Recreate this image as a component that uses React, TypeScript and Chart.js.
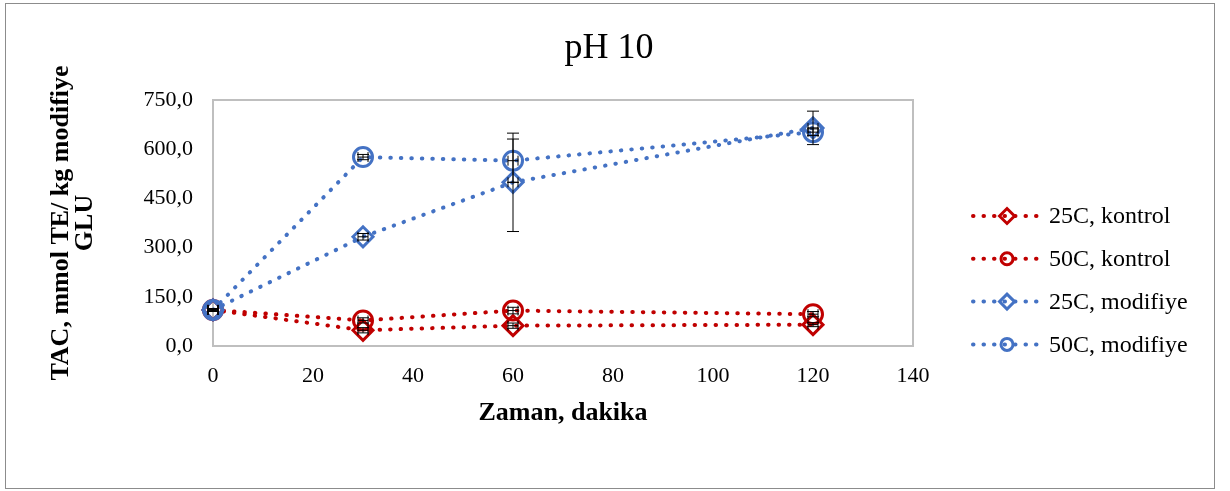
import React, { useEffect, useRef } from 'react';
import { Chart, registerables } from 'chart.js';

Chart.register(...registerables);

// ---- Data ----
const chartTitle = 'pH 10';
const xMinutes = [0, 30, 60, 120];
const seriesLabels = ['25C, kontrol', '50C, kontrol', '25C, modifiye', '50C, modifiye'];
const kontrol25 = [110, 48, 62, 65];
const kontrol50 = [110, 78, 108, 97];
const modifiye25 = [110, 333, 499, 665];
const modifiye50 = [110, 576, 565, 652];
const kontrol25Err = [4, 8, 8, 6];
const kontrol50Err = [4, 8, 10, 8];
const modifiye25Err = [4, 10, 150, 51];
const modifiye50Err = [4, 8, 66, 10];
const xErr = [1, 1, 1, 1];
const yTickLabels = ['0,0', '150,0', '300,0', '450,0', '600,0', '750,0'];
const xTickLabels = ['0', '20', '40', '60', '80', '100', '120', '140'];

const RED = '#c00000';
const BLUE = '#4472c4';
const SERIF = "'Liberation Serif', 'Times New Roman', serif";

const seriesValues = [kontrol25, kontrol50, modifiye25, modifiye50];
const seriesErrors = [kontrol25Err, kontrol50Err, modifiye25Err, modifiye50Err];
const seriesColors = [RED, RED, BLUE, BLUE];
const seriesShapes = ['rectRot', 'circle', 'rectRot', 'circle'];

const drawMarker = (ctx: CanvasRenderingContext2D, shape: string, x: number, y: number, r: number, color: string, lw: number) => {
  ctx.save();
  ctx.strokeStyle = color;
  ctx.lineWidth = lw;
  ctx.beginPath();
  if (shape === 'circle') {
    ctx.arc(x, y, r, 0, Math.PI * 2);
  } else {
    ctx.moveTo(x - r, y);
    ctx.lineTo(x, y - r);
    ctx.lineTo(x + r, y);
    ctx.lineTo(x, y + r);
    ctx.closePath();
  }
  ctx.stroke();
  ctx.restore();
};

const errorBarPlugin = {
  id: 'errorBars',
  afterDatasetsDraw(chart: any) {
    const { ctx, scales } = chart;
    const xs = scales.x;
    const ys = scales.y;
    ctx.save();
    ctx.strokeStyle = '#000';
    ctx.lineWidth = 1;
    seriesValues.forEach((vals, si) => {
      vals.forEach((v, i) => {
        const px = xs.getPixelForValue(xMinutes[i]);
        const py = ys.getPixelForValue(v);
        const yTop = ys.getPixelForValue(v + seriesErrors[si][i]);
        const yBot = ys.getPixelForValue(v - seriesErrors[si][i]);
        const xL = xs.getPixelForValue(xMinutes[i] - xErr[i]);
        const xR = xs.getPixelForValue(xMinutes[i] + xErr[i]);
        ctx.beginPath();
        ctx.moveTo(px, yTop);
        ctx.lineTo(px, yBot);
        ctx.moveTo(px - 6, yTop);
        ctx.lineTo(px + 6, yTop);
        ctx.moveTo(px - 6, yBot);
        ctx.lineTo(px + 6, yBot);
        ctx.moveTo(xL, py);
        ctx.lineTo(xR, py);
        ctx.moveTo(xL, py - 5);
        ctx.lineTo(xL, py + 5);
        ctx.moveTo(xR, py - 5);
        ctx.lineTo(xR, py + 5);
        ctx.stroke();
      });
    });
    ctx.restore();
  },
};

const framePlugin = {
  id: 'frame',
  beforeDatasetsDraw(chart: any) {
    const { ctx, chartArea } = chart;
    ctx.save();
    ctx.strokeStyle = '#bfbfbf';
    ctx.lineWidth = 2;
    ctx.strokeRect(chartArea.left, chartArea.top, chartArea.right - chartArea.left, chartArea.bottom - chartArea.top);
    ctx.restore();
  },
  afterDraw(chart: any) {
    const { ctx } = chart;
    ctx.save();
    // outer border
    ctx.strokeStyle = '#8c8c8c';
    ctx.lineWidth = 1;
    ctx.strokeRect(5.5, 3.5, 1209, 485);
    // title
    ctx.fillStyle = '#000';
    ctx.font = `36px ${SERIF}`;
    ctx.textAlign = 'center';
    ctx.textBaseline = 'alphabetic';
    ctx.fillText(chartTitle, 609, 58);
    // legend
    const rowY0 = 216;
    const rowGap = 42.8;
    seriesLabels.forEach((lab, i) => {
      const y = rowY0 + i * rowGap;
      const c = seriesColors[i];
      ctx.strokeStyle = c;
      ctx.lineWidth = 4;
      ctx.lineCap = 'round';
      ctx.setLineDash([0.5, 10]);
      ctx.beginPath();
      ctx.moveTo(973, y);
      ctx.lineTo(1040, y);
      ctx.stroke();
      ctx.setLineDash([]);
      ctx.lineCap = 'butt';
      drawMarker(ctx, seriesShapes[i], 1007, y, seriesShapes[i] === 'circle' ? 6 : 7.5, c, 3);
      ctx.fillStyle = '#000';
      ctx.font = `24px ${SERIF}`;
      ctx.textBaseline = 'middle';
      ctx.textAlign = 'left';
      ctx.fillText(lab, 1049, y + 1);
    });
    ctx.restore();
  },
};

export default function App() {
  const canvasRef = useRef<HTMLCanvasElement | null>(null);

  useEffect(() => {
    const canvas = canvasRef.current;
    if (!canvas) return;
    const datasets = seriesLabels.map((label, si) => ({
      label,
      order: seriesLabels.length - si,
      data: xMinutes.map((x, i) => ({ x, y: seriesValues[si][i] })),
      borderColor: seriesColors[si],
      backgroundColor: 'rgba(0,0,0,0)',
      borderWidth: 4,
      borderDash: [0.5, 10],
      borderCapStyle: 'round' as const,
      tension: 0,
      pointStyle: seriesShapes[si] as any,
      pointRadius: seriesShapes[si] === 'circle' ? 9.5 : 10,
      pointBorderWidth: 3,
      pointBorderColor: seriesColors[si],
      pointBackgroundColor: 'rgba(0,0,0,0)',
      clip: false as any,
    }));

    const chart = new Chart(canvas, {
      type: 'line',
      data: { datasets },
      options: {
        responsive: false,
        animation: false,
        layout: { padding: { left: 46, right: 317, top: 100, bottom: 62 } },
        plugins: {
          legend: { display: false },
          tooltip: { enabled: false },
          title: { display: false },
        },
        scales: {
          x: {
            type: 'linear',
            min: 0,
            max: 140,
            grid: { display: false, drawTicks: false },
            border: { display: false },
            ticks: {
              stepSize: 20,
              padding: 17,
              color: '#000',
              font: { family: SERIF, size: 22 },
              callback: (_v: any, i: number) => xTickLabels[i],
            },
            title: {
              display: true,
              text: 'Zaman, dakika',
              color: '#000',
              font: { family: SERIF, size: 26, weight: 'bold' },
              padding: 0,
            },
            afterFit: (s: any) => {
              s.height = 83;
            },
          },
          y: {
            type: 'linear',
            min: 0,
            max: 750,
            grid: { display: false, drawTicks: false },
            border: { display: false },
            ticks: {
              stepSize: 150,
              padding: 20,
              color: '#000',
              font: { family: SERIF, size: 22 },
              callback: (_v: any, i: number) => yTickLabels[i],
            },
            title: {
              display: true,
              text: ['TAC, mmol TE/ kg modifiye', 'GLU'],
              color: '#000',
              font: { family: SERIF, size: 26, weight: 'bold', lineHeight: 0.9 },
              padding: { top: 4, bottom: 0 },
            },
            afterFit: (s: any) => {
              s.width = 167;
            },
          },
        },
      },
      plugins: [framePlugin, errorBarPlugin],
    });
    return () => chart.destroy();
  }, []);

  return (
    <div style={{ position: 'absolute', left: 0, top: 0, width: 1230, height: 491, background: '#fff' }}>
      <canvas ref={canvasRef} width={1230} height={491} style={{ display: 'block' }} />
    </div>
  );
}
